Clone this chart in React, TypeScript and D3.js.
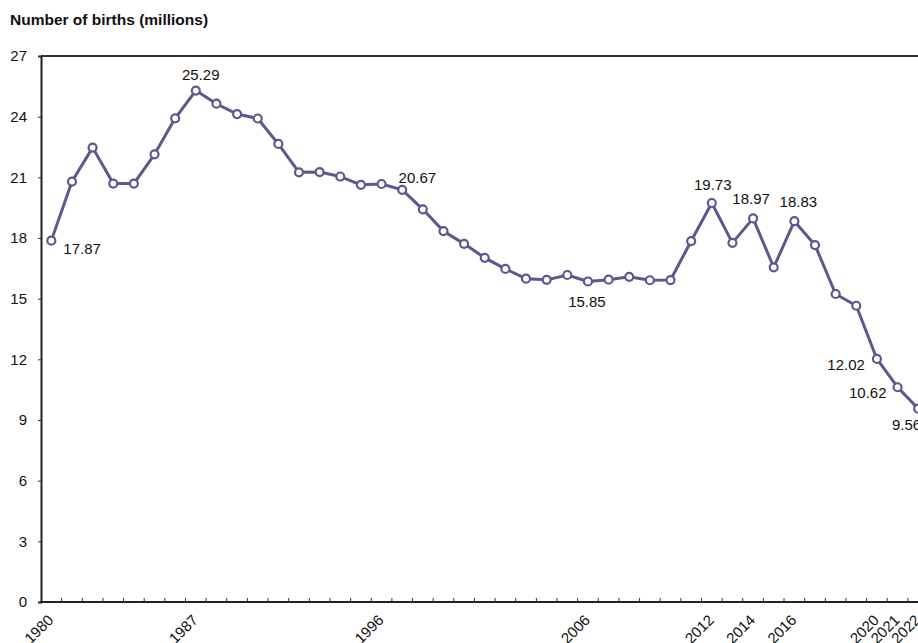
import React, { useEffect, useRef } from "react";
import * as d3 from "d3";

// births in China, millions
const years: number[] = d3.range(1980, 2023);
const births: number[] = [
  17.87, 20.79, 22.47, 20.69, 20.69, 22.14, 23.92, 25.29, 24.64, 24.13,
  23.91, 22.65, 21.25, 21.26, 21.04, 20.63, 20.67, 20.38, 19.42, 18.34,
  17.71, 17.02, 16.47, 15.99, 15.93, 16.17, 15.85, 15.94, 16.08, 15.91,
  15.92, 17.85, 19.73, 17.76, 18.97, 16.55, 18.83, 17.65, 15.23, 14.65,
  12.02, 10.62, 9.56,
];
const labelYears: number[] = [1980, 1987, 1996, 2006, 2012, 2014, 2016, 2020, 2021, 2022];
const yTicks: number[] = [0, 3, 6, 9, 12, 15, 18, 21, 24, 27];

// which points get a value label, and where it sits
const callouts: { year: number; dx: number; dy: number; anchor: string }[] = [
  { year: 1980, dx: 12, dy: 13, anchor: "start" },
  { year: 1987, dx: 5, dy: -11, anchor: "middle" },
  { year: 1996, dx: 17, dy: -1, anchor: "start" },
  { year: 2006, dx: -1, dy: 26, anchor: "middle" },
  { year: 2012, dx: 1, dy: -13, anchor: "middle" },
  { year: 2014, dx: -2, dy: -14, anchor: "middle" },
  { year: 2016, dx: 4, dy: -14, anchor: "middle" },
  { year: 2020, dx: -12, dy: 11, anchor: "end" },
  { year: 2021, dx: -11, dy: 11, anchor: "end" },
  { year: 2022, dx: 3, dy: 21, anchor: "end" },
];

const FONT = "'Liberation Sans', Arial, sans-serif";
const PURPLE = "#63558f";

const App: React.FC = () => {
  const svgRef = useRef<SVGSVGElement>(null);

  useEffect(() => {
    if (!svgRef.current) return;
    const svg = d3.select(svgRef.current);
    svg.selectAll("*").remove();

    const left = 41;
    const step = 20.64;
    const x = d3
      .scaleBand<number>()
      .domain(years)
      .range([left, left + step * years.length])
      .padding(0);
    const cx = (yr: number) => (x(yr) as number) + x.bandwidth() / 2;

    const y = d3.scaleLinear().domain([0, 27]).range([602, 56]);

    svg.attr("font-family", FONT);

    // title
    svg
      .append("text")
      .attr("x", 10)
      .attr("y", 25)
      .attr("font-size", 15.5)
      .attr("font-weight", "bold")
      .attr("fill", "#111")
      .text("Number of births (millions)");

    // top frame line
    svg
      .append("line")
      .attr("x1", left)
      .attr("x2", 930)
      .attr("y1", y(27))
      .attr("y2", y(27))
      .attr("stroke", "#333")
      .attr("stroke-width", 2);

    // y axis
    const yAxis = svg
      .append("g")
      .attr("transform", `translate(${left},0)`)
      .call(d3.axisLeft(y).tickValues(yTicks).tickSize(3).tickPadding(11));
    yAxis.select(".domain").attr("stroke", "#222").attr("stroke-width", 2);
    yAxis.selectAll(".tick line").attr("stroke", "#333");
    yAxis
      .selectAll("text")
      .attr("font-size", 15)
      .attr("font-family", FONT)
      .attr("fill", "#111");

    // x axis: ticks at band edges, pointing up
    const xg = svg.append("g");
    xg.append("line")
      .attr("x1", left - 1)
      .attr("x2", 930)
      .attr("y1", y(0))
      .attr("y2", y(0))
      .attr("stroke", "#222")
      .attr("stroke-width", 2);
    xg.selectAll("line.tk")
      .data(years.slice(1))
      .join("line")
      .attr("class", "tk")
      .attr("x1", (d) => x(d) as number)
      .attr("x2", (d) => x(d) as number)
      .attr("y1", y(0))
      .attr("y2", y(0) - 4)
      .attr("stroke", "#333")
      .attr("stroke-width", 1);
    xg.selectAll("text")
      .data(labelYears)
      .join("text")
      .attr("transform", (d) => `translate(${cx(d) + 3},${621}) rotate(-45)`)
      .attr("text-anchor", "end")
      .attr("font-size", 15)
      .attr("fill", "#111")
      .text((d) => d);

    // line
    const line = d3
      .line<number>()
      .x((_, i) => cx(years[i]))
      .y((d) => y(d));
    svg
      .append("path")
      .datum(births)
      .attr("d", line)
      .attr("fill", "none")
      .attr("stroke", PURPLE)
      .attr("stroke-width", 3)
      .attr("stroke-linejoin", "round");

    svg
      .append("g")
      .selectAll("circle")
      .data(births)
      .join("circle")
      .attr("cx", (_, i) => cx(years[i]))
      .attr("cy", (d) => y(d))
      .attr("r", 4)
      .attr("fill", "#fff")
      .attr("stroke", PURPLE)
      .attr("stroke-width", 2.2);

    // value labels
    svg
      .append("g")
      .selectAll("text")
      .data(callouts)
      .join("text")
      .attr("x", (d) => cx(d.year) + d.dx)
      .attr("y", (d) => y(births[years.indexOf(d.year)]) + d.dy)
      .attr("text-anchor", (d) => d.anchor)
      .attr("font-size", 15)
      .attr("fill", "#111")
      .text((d) => births[years.indexOf(d.year)].toFixed(2));
  }, []);

  return (
    <svg
      ref={svgRef}
      width={918}
      height={643}
      style={{ position: "absolute", left: 0, top: 0, background: "#fff" }}
    />
  );
};

export default App;
